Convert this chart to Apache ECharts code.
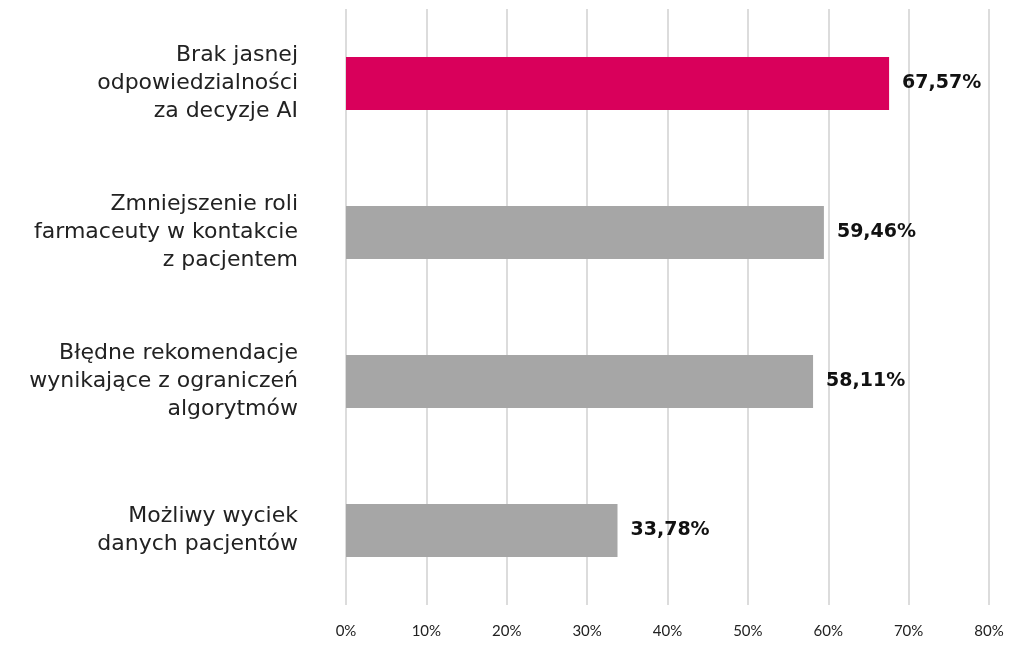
<!DOCTYPE html>
<html><head><meta charset="utf-8">
<script src="https://cdn.jsdelivr.net/npm/echarts@6/dist/echarts.min.js"></script>
<style>html,body{margin:0;padding:0;background:#fff}#c{width:1024px;height:652px}</style>
</head><body><div id="c"></div>
<script>
const categories = [
  "Brak jasnej\nodpowiedzialności\nza decyzje AI",
  "Zmniejszenie roli\nfarmaceuty w kontakcie\nz pacjentem",
  "Błędne rekomendacje\nwynikające z ograniczeń\nalgorytmów",
  "Możliwy wyciek\ndanych pacjentów"
];
const values = [67.57, 59.46, 58.11, 33.78];
const highlight = [true, false, false, false];
const FONT = "'DejaVu Sans', sans-serif";
const AXFONT = "Lato, 'Open Sans', sans-serif";
const chart = echarts.init(document.getElementById('c'));
chart.setOption({
  animation: false,
  grid: { left: 346, right: 35, top: 9, bottom: 47, containLabel: false },
  xAxis: {
    type: 'value', min: 0, max: 80, interval: 10,
    axisLine: { show: false }, axisTick: { show: false },
    splitLine: { show: true, lineStyle: { color: '#dcdcdc', width: 2 } },
    axisLabel: { formatter: '{value}%', color: '#222', fontSize: 15, fontFamily: AXFONT, margin: 19 }
  },
  yAxis: {
    type: 'category', data: categories, inverse: true,
    axisLine: { show: false }, axisTick: { show: false },
    axisLabel: { color: '#222', fontSize: 22, lineHeight: 28, fontFamily: FONT, margin: 48, align: 'right' }
  },
  series: [{
    type: 'bar', barWidth: 53,
    data: values.map((v, i) => ({ value: v, itemStyle: { color: highlight[i] ? '#d9005b' : '#a6a6a6' } })),
    label: {
      show: true, position: 'right', distance: 13,
      formatter: p => p.value.toFixed(2).replace('.', ',') + '%',
      color: '#111', fontSize: 19, fontWeight: 'bold', fontFamily: FONT
    }
  }]
});
</script></body></html>
